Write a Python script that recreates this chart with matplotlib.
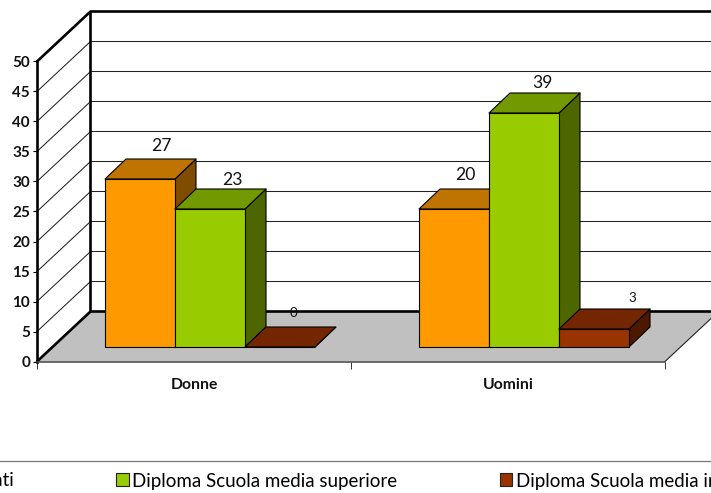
import matplotlib
matplotlib.use("Agg")
import matplotlib.pyplot as plt
from matplotlib.patches import Polygon, Patch

categories = ["Donne", "Uomini"]
series_names = ["Laureati", "Diploma Scuola media superiore", "Diploma Scuola media inferiore"]
laureati = [28, 23]
superiore = [23, 39]
inferiore = [0, 3]
laureati_labels = ["27", "20"]
superiore_labels = ["23", "39"]
inferiore_labels = ["0", "3"]
y_ticks = list(range(0, 55, 5))

W, H = 711, 493
L, R, T, B = 37, 665, 61.5, 361.5
PXX = (R - L) / 2      # pixels per category
PXY = (B - T) / 50     # pixels per value unit

plt.rcParams['font.family'] = ['Lato', 'DejaVu Sans']
fig = plt.figure(figsize=(W / 100, H / 100), dpi=100)
ax = fig.add_axes([L / W, 1 - B / H, (R - L) / W, (B - T) / H])
ax.set_xlim(0, 2)
ax.set_ylim(0, 50)
ax.patch.set_visible(False)

# depth of the box and of the bars, in data units
wx, wy = 53.5 / PXX, 50 / PXY
dx, dy = 21 / PXX, 20 / PXY
base_x, base_y = 68 / PXX, 14.5 / PXY
bw = 70 / PXX

THICK = 1.9
ln = dict(clip_on=False, solid_capstyle='round')

# grid
for v in y_ticks:
    ax.plot([0, wx, 2 + wx], [v, v + wy, v + wy], color='#222222', lw=0.75, zorder=1, **ln)

# floor
ax.add_patch(Polygon([(0, 0), (2, 0), (2 + wx, wy), (wx, wy)], closed=True, fc='#C0C0C0',
                     ec='none', zorder=1.5, clip_on=False))
ax.plot([2, 2 + wx], [0, wy], color='#222222', lw=0.8, zorder=1.6, **ln)

# thick frame of walls
ax.plot([0, wx, wx], [50, 50 + wy, wy], color='black', lw=THICK, zorder=2, **ln)
ax.plot([wx, 2 + wx], [50 + wy, 50 + wy], color='black', lw=THICK, zorder=2, **ln)
ax.plot([0, wx, 2 + wx], [0, wy, wy], color='black', lw=THICK, zorder=2, **ln)

colors = [("#FF9900", "#BF7300", "#7F4C00"),
          ("#99CC00", "#739900", "#4D6600"),
          ("#993300", "#732600", "#4C1900")]
all_vals = [laureati, superiore, inferiore]
z = 3.0
legend_handles = []
for s, (vals, cs) in enumerate(zip(all_vals, colors)):
    legend_handles.append(Patch(fc=cs[0], ec='#222222', lw=0.8, label=series_names[s]))

for c in range(len(categories)):
    for s, (vals, cs) in enumerate(zip(all_vals, colors)):
        x0 = c + base_x + s * bw
        x1 = x0 + bw
        v0 = base_y
        v1 = base_y + vals[c]
        ek = dict(ec='black', lw=0.8, clip_on=False, joinstyle='round')
        ax.add_patch(Polygon([(x1, v0), (x1 + dx, v0 + dy), (x1 + dx, v1 + dy), (x1, v1)],
                             closed=True, fc=cs[2], zorder=z, **ek))
        ax.add_patch(Polygon([(x0, v1), (x1, v1), (x1 + dx, v1 + dy), (x0 + dx, v1 + dy)],
                             closed=True, fc=cs[1], zorder=z + 0.01, **ek))
        ax.bar(x0, vals[c], bw, bottom=v0, align='edge', color=cs[0], edgecolor='black',
               linewidth=0.8, zorder=z + 0.02, clip_on=False)
        z += 0.1

# data labels, offset in pixels from the top centre of the bar's front face
label_sets = [laureati_labels, superiore_labels, inferiore_labels]
label_size = [12.6, 12.6, 9.6]
label_offsets_px = [[(21, 33), (11, 34)], [(22, 29), (18, 30)], [(13, 34), (38, 31)]]
for c in range(len(categories)):
    for s, vals in enumerate(all_vals):
        xm = c + base_x + s * bw + bw / 2
        ox, oy = label_offsets_px[s][c]
        ax.annotate(label_sets[s][c], (xm, base_y + vals[c]), xytext=(ox * 0.72, oy * 0.72),
                    textcoords='offset points', ha='center', va='center',
                    fontsize=label_size[s], color='#111111', zorder=20, annotation_clip=False)

# axes and ticks
for sp in ['top', 'right']:
    ax.spines[sp].set_visible(False)
ax.spines['left'].set_linewidth(THICK)
ax.spines['left'].set_zorder(2)
ax.spines['bottom'].set_linewidth(1.1)
ax.spines['bottom'].set_color('#444444')
ax.spines['bottom'].set_zorder(2)
ax.set_yticks(y_ticks)
ax.set_yticklabels([str(v) for v in y_ticks], fontsize=11, fontweight='bold', color='#111111')
ax.tick_params(axis='y', length=3, width=0.8, pad=2)
ax.set_xticks([0, 1, 2])
ax.set_xticklabels([])
ax.set_xticks([0.5, 1.5], minor=True)
ax.set_xticklabels(categories, minor=True, fontsize=11.3, fontweight='bold', color='#111111')
ax.tick_params(axis='x', which='major', length=5, width=0.7, color='#333333')
ax.tick_params(axis='x', which='minor', length=0, pad=12)

# legend rule and legend
fig.add_artist(plt.Line2D([0, 1], [1 - 460.5 / H] * 2, color='#777777', lw=0.9))
leg = fig.legend(handles=legend_handles, ncol=3, frameon=False, fontsize=13.5,
                 loc='center left', bbox_to_anchor=(-69 / W, 1 - 481 / H),
                 bbox_transform=fig.transFigure, borderaxespad=0, borderpad=0,
                 handlelength=0.69, handleheight=0.69, handletextpad=0.17, columnspacing=5.45)

fig.savefig("out.png", dpi=100)
